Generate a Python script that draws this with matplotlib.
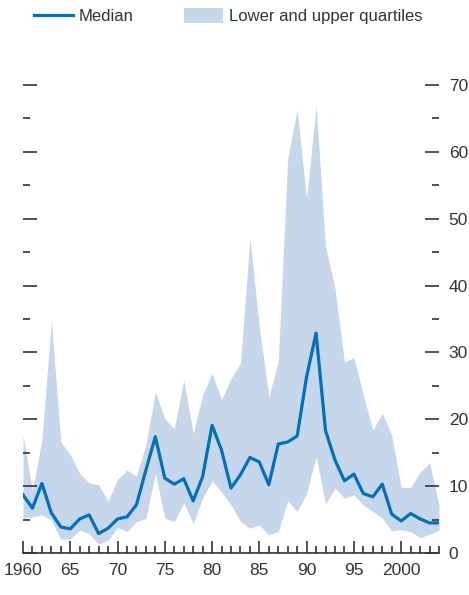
import matplotlib
matplotlib.use("Agg")
import matplotlib.pyplot as plt
from matplotlib.ticker import MultipleLocator, FixedLocator
from matplotlib.lines import Line2D
from matplotlib.patches import Patch

years = list(range(1960, 2005))
median = [8.7, 6.7, 10.4, 6.0, 3.9, 3.6, 5.1, 5.7, 2.9, 3.7,
          5.1, 5.4, 7.2, 12.4, 17.4, 11.2, 10.3, 11.1, 7.8, 11.4,
          19.1, 15.4, 9.7, 11.7, 14.3, 13.6, 10.2, 16.3, 16.6, 17.5,
          26.4, 32.9, 18.3, 13.9, 10.8, 11.8, 8.9, 8.4, 10.3, 5.8,
          4.8, 5.9, 5.1, 4.5, 4.5]
upper = [17.6, 9.4, 16.9, 34.8, 16.6, 14.7, 11.9, 10.5, 10.2, 7.8,
         11.0, 12.4, 11.5, 16.2, 24.1, 20.1, 18.6, 25.9, 17.9, 23.6,
         26.9, 22.9, 26.1, 28.4, 47.1, 33.8, 23.4, 28.6, 59.0, 66.3,
         53.0, 67.0, 45.8, 39.6, 28.6, 29.2, 23.6, 18.4, 20.9, 17.6,
         9.8, 9.8, 12.1, 13.5, 7.2]
lower = [5.2, 5.4, 5.7, 4.9, 2.1, 2.1, 3.4, 2.9, 1.3, 1.9,
         3.8, 3.2, 4.7, 5.2, 11.9, 5.2, 4.7, 7.5, 4.4, 8.2,
         10.8, 9.1, 7.2, 4.7, 3.7, 4.2, 2.7, 3.2, 7.8, 6.2,
         8.9, 14.4, 7.3, 9.7, 8.2, 8.7, 7.2, 6.2, 5.2, 3.3,
         3.5, 3.2, 2.3, 2.8, 3.4]
xtick_pos = [1960, 1965, 1970, 1975, 1980, 1985, 1990, 1995, 2000]
xtick_lab = ["1960", "65", "70", "75", "80", "85", "90", "95", "2000"]

line_col = "#0071bc"
band_col = "#c6d7ec"
ink = "#333333"

plt.rcParams["font.family"] = ["Liberation Sans Narrow", "Liberation Sans", "DejaVu Sans"]

fig = plt.figure(figsize=(4.69, 5.95), dpi=100)
ax = fig.add_axes([0.049, 0.0706, 0.887, 0.7865])

ax.fill_between(years, lower, upper, color=band_col, linewidth=0)
ax.plot(years, median, color=line_col, linewidth=2.3)

ax.set_xlim(1960, 2004)
ax.set_ylim(0, 70)

for s in ["top", "left", "right"]:
    ax.spines[s].set_visible(False)
ax.spines["bottom"].set_color(ink)
ax.spines["bottom"].set_linewidth(1.2)

# x axis
ax.xaxis.set_major_locator(FixedLocator(xtick_pos))
ax.set_xticklabels(xtick_lab)
ax.xaxis.set_minor_locator(MultipleLocator(1))
ax.tick_params(axis="x", which="major", direction="in", length=9, width=1.2,
               color=ink, labelsize=12.5, labelcolor=ink, pad=7)
ax.tick_params(axis="x", which="minor", direction="in", length=5, width=1.2, color=ink)

# y axis: ticks on both sides, labels on the right only
ax.yaxis.set_major_locator(MultipleLocator(10))
ax.yaxis.set_minor_locator(MultipleLocator(5))
ax.tick_params(axis="y", which="both", left=True, right=True,
               labelleft=False, labelright=True, direction="in", color=ink)
ax.tick_params(axis="y", which="major", length=10, width=1.2,
               labelsize=12.5, labelcolor=ink, pad=7)
ax.tick_params(axis="y", which="minor", length=5, width=1.2)

handles = [Line2D([0], [0], color=line_col, linewidth=2.3),
           Patch(facecolor=band_col, edgecolor="none")]
fig.legend(handles, ["Median", "Lower and upper quartiles"],
           loc="upper left", bbox_to_anchor=(0.04, 1.012), ncol=2,
           frameon=False, fontsize=12, handlelength=2.35, handleheight=1.05,
           handletextpad=0.35, columnspacing=3.0, labelcolor=ink)

fig.savefig("out.png", dpi=100)
